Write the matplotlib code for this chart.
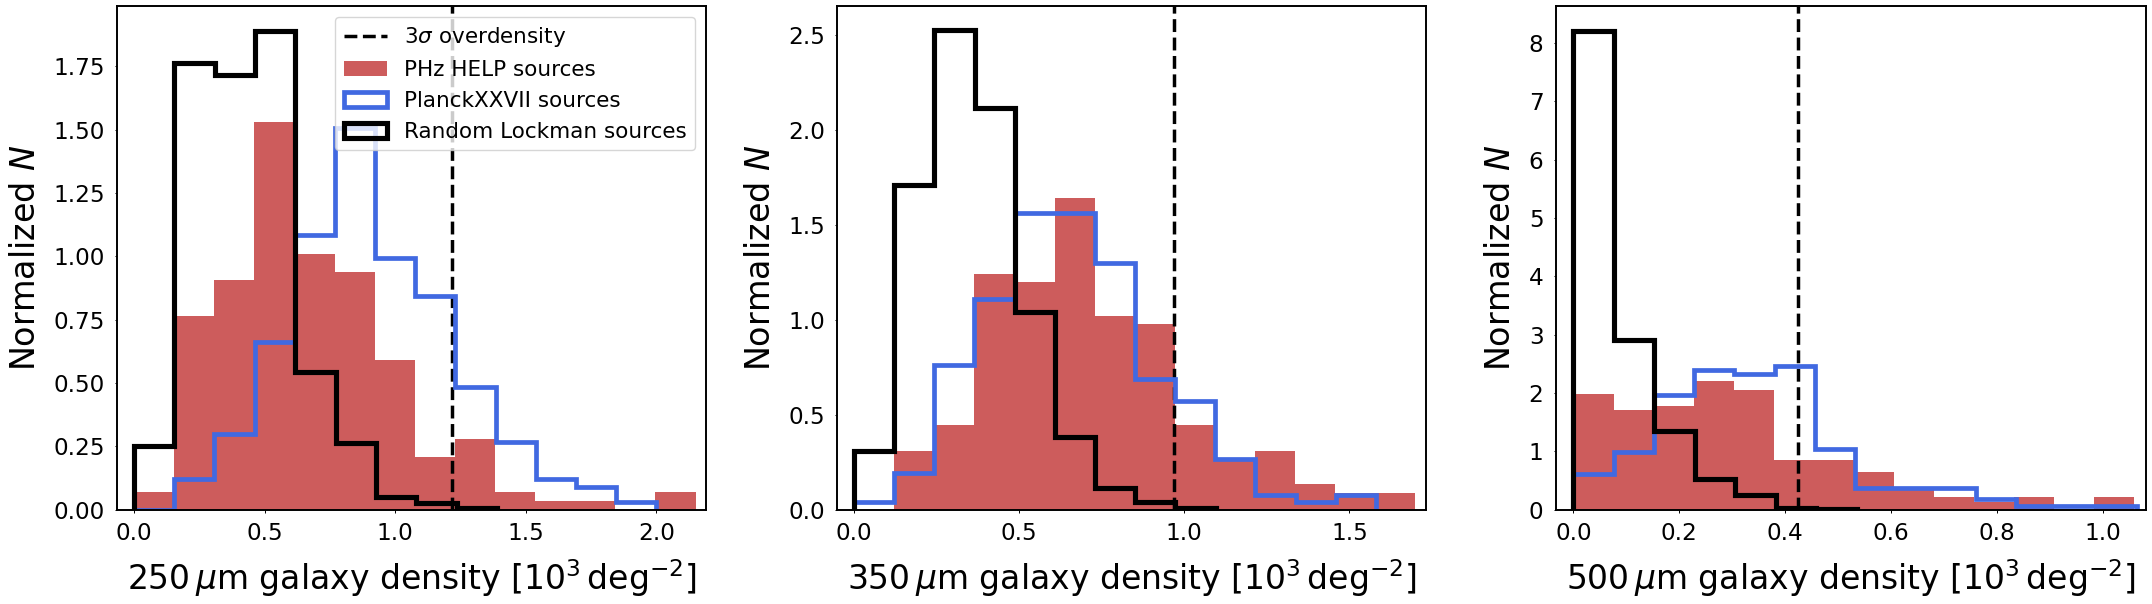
import numpy as np
import matplotlib
matplotlib.use("Agg")
import matplotlib.pyplot as plt

W, H = 2152, 604

# 250 micron
red_250 = [.07, .764, .906, 1.53, 1.009, .938, .591, .208, .279, .07, .034, .034, 0, .07]
blue_250 = [0, .12, .30, .66, 1.084, 1.505, .992, .843, .483, .268, .12, .088, .03]
black_250 = [.251, 1.764, 1.714, 1.891, .542, .262, .049, .025, .005]
# 350 micron
red_350 = [0, .309, .446, 1.241, 1.199, 1.642, 1.02, .978, .446, .265, .309, .135, .088, .088]
blue_350 = [.039, .191, .76, 1.11, 1.561, 1.561, 1.297, .686, .571, .265, .077, .04, .077]
black_350 = [.309, 1.71, 2.523, 2.114, 1.039, .384, .112, .04, .01]
# 500 micron
red_500 = [1.983, 1.709, 1.777, 2.206, 2.051, .851, .851, .646, .34, .217, .137, .217, 0, .217]
blue_500 = [.606, .983, 1.96, 2.389, 2.326, 2.463, 1.034, .366, .366, .366, .177, .069, .069, .069]
black_500 = [8.21, 2.903, 1.349, .52, .251, .034, .02]

# upper end of the binning of each series
red_ends = [2.15, 1.70, 1.06]
blue_ends = [2.0, 1.58, 1.065]
black_ends = [1.39, 1.095, 0.535]
sigma3 = [1.218, .970, .425]
wavelengths = ["250", "350", "500"]
xlims = [(-.065, 2.19), (-.0515, 1.731), (-.0336, 1.082)]
ylims = [1.988, 2.65, 8.63]
yticks = [np.arange(0, 1.8, .25), np.arange(0, 2.6, .5), np.arange(0, 9, 1)]
xticks = [np.arange(0, 2.1, .5), np.arange(0, 1.6, .5), np.arange(0, 1.1, .2)]
boxes = [(117, 706), (837, 1425.7), (1555.7, 2146)]
TOP, BOTTOM = 6, 509.7

reds = [red_250, red_350, red_500]
blues = [blue_250, blue_350, blue_500]
blacks = [black_250, black_350, black_500]

fig = plt.figure(figsize=(W / 100, H / 100), dpi=100)


def draw(ax, vals, end, **kw):
    edges = np.linspace(0, end, len(vals) + 1)
    ax.hist(edges[:-1], bins=edges, weights=vals, **kw)


for i in range(3):
    l, r = boxes[i]
    ax = fig.add_axes([l / W, 1 - BOTTOM / H, (r - l) / W, (BOTTOM - TOP) / H])
    ax.axvline(sigma3[i], color="k", ls="--", lw=2.5, label=r"3$\sigma$ overdensity")
    draw(ax, reds[i], red_ends[i], color="indianred", label="PHz HELP sources")
    draw(ax, blues[i], blue_ends[i], histtype="step", color="royalblue", lw=3.4,
         label="PlanckXXVII sources")
    draw(ax, blacks[i], black_ends[i], histtype="step", color="k", lw=3.7,
         label="Random Lockman sources")
    ax.set_xlim(*xlims[i])
    ax.set_ylim(0, ylims[i])
    ax.set_yticks(yticks[i])
    ax.set_xticks(xticks[i])
    ax.tick_params(labelsize=16.7, length=1.8, width=.7, pad=7)
    for s in ax.spines.values():
        s.set_linewidth(1.4)
    ax.set_xlabel(wavelengths[i] + r"$\,\mu$m galaxy density [$10^3\,$deg$^{-2}$]",
                  fontsize=23.8, labelpad=9)
    ax.set_ylabel(r"Normalized $N$", fontsize=24, labelpad=8)
    if i == 0:
        ax.legend(loc="upper right", fontsize=15.5, labelspacing=.5)

fig.savefig("out.png", dpi=100)
